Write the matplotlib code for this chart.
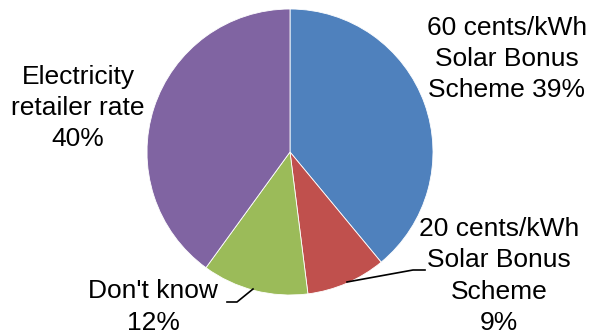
import matplotlib.pyplot as plt

labels = ["60 cents/kWh\nSolar Bonus\nScheme 39%", "20 cents/kWh\nSolar Bonus\nScheme\n9%",
          "Don't know\n12%", "Electricity\nretailer rate\n40%"]
values = [39, 9, 12, 40]
colors = ["#4F81BD", "#C0504D", "#9BBB59", "#8064A2"]

W, H = 591, 333
fig = plt.figure(figsize=(W / 100, H / 100), dpi=100)
ax = fig.add_axes([0, 0, 1, 1])

cx, cy, r = 290, H - 152, 143
ax.pie(values, colors=colors, startangle=90, counterclock=False, center=(cx, cy),
       radius=r, frame=True, wedgeprops=dict(linewidth=0.6, edgecolor="white"))
ax.set_xlim(0, W)
ax.set_ylim(0, H)
ax.axis("off")

# label positions in pixels (x, y from top)
pos = [(507, 59), (499, 276), (153, 307), (78, 108)]
for lab, (px, py) in zip(labels, pos):
    ax.text(px, H - py, lab, ha="center", va="center", fontsize=19,
            family="Liberation Sans", linespacing=1.38, multialignment="center")

# leader lines
ax.plot([347, 413, 425], [H - 282, H - 270, H - 270], color="black", lw=1.2)
ax.plot([253, 237, 227], [H - 289, H - 302, H - 302], color="black", lw=1.2)

fig.savefig("out.png", dpi=100)
